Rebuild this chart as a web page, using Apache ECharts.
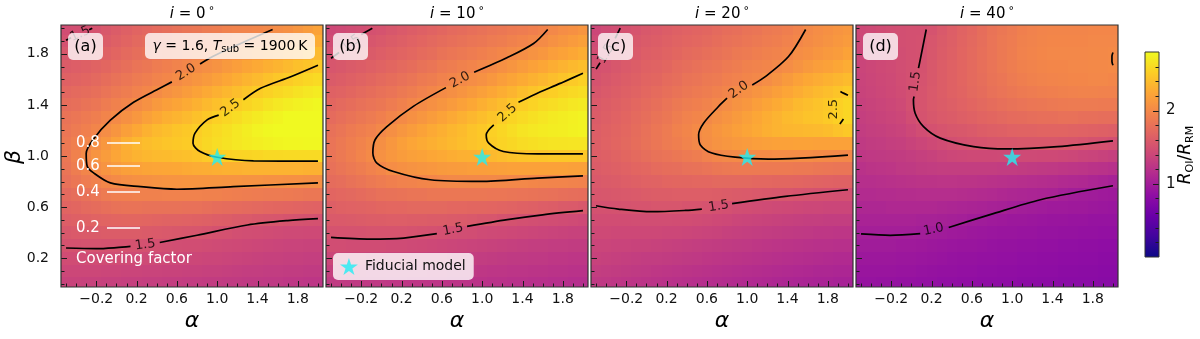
<!DOCTYPE html>
<html>
<head>
<meta charset="utf-8">
<script src="https://cdn.jsdelivr.net/npm/echarts@6/dist/echarts.min.js"></script>
<style>
html, body { margin: 0; padding: 0; background: #fff; }
#chart { width: 1200px; height: 339px; }
</style>
</head>
<body>
<div id="chart"></div>
<script>
// cell centres of the grid (alpha columns, beta rows)
var alphaCenters = [-0.5, -0.4, -0.3, -0.2, -0.1, 0.0, 0.1, 0.2, 0.3, 0.4, 0.5, 0.6, 0.7, 0.8, 0.9, 1.0, 1.1, 1.2, 1.3, 1.4, 1.5, 1.6, 1.7, 1.8, 1.9, 2.0];
var betaCenters = [0.0, 0.1, 0.2, 0.3, 0.4, 0.5, 0.6, 0.7, 0.8, 0.9, 1.0, 1.1, 1.2, 1.3, 1.4, 1.5, 1.6, 1.7, 1.8, 1.9, 2.0];
var alphaRange = [-0.55, 2.05];
var betaRange = [-0.025, 2.025];

var alphaTicks = [-0.2, 0.2, 0.6, 1.0, 1.4, 1.8];
var alphaMinor = [-0.5, -0.4, -0.3, -0.1, 0.0, 0.1, 0.3, 0.4, 0.5, 0.7, 0.8, 0.9, 1.1, 1.2, 1.3, 1.5, 1.6, 1.7, 1.9, 2.0];
var betaTicks = [0.2, 0.6, 1.0, 1.4, 1.8];
var betaMinor = [0.0, 0.1, 0.3, 0.4, 0.5, 0.7, 0.8, 0.9, 1.1, 1.2, 1.3, 1.5, 1.6, 1.7, 1.9, 2.0];
var cbarTicks = [1, 2];
var cbarMinor = [0.2, 0.4, 0.6, 0.8, 1.2, 1.4, 1.6, 1.8, 2.2, 2.4, 2.6];
var cbarRange = [0, 2.8];

var inclinations = ['0', '10', '20', '40'];
var panelTags = ['(a)', '(b)', '(c)', '(d)'];
var fiducial = [1.0, 1.0];
var coverLevels = ['0.8', '0.6', '0.4', '0.2'];

// R_OI / R_RM, one row per beta (0.0 -> 2.0), one column per alpha (-0.5 -> 2.0)
var ratioA = [
  [1.36,1.36,1.35,1.35,1.34,1.34,1.33,1.33,1.32,1.32,1.31,1.31,1.30,1.30,1.29,1.29,1.28,1.28,1.27,1.27,1.26,1.26,1.25,1.25,1.24,1.24],
  [1.40,1.40,1.40,1.40,1.39,1.39,1.38,1.38,1.37,1.37,1.36,1.36,1.35,1.35,1.34,1.34,1.33,1.32,1.31,1.31,1.30,1.30,1.29,1.29,1.28,1.28],
  [1.45,1.45,1.45,1.45,1.45,1.45,1.44,1.44,1.43,1.43,1.42,1.41,1.40,1.40,1.39,1.39,1.38,1.37,1.36,1.35,1.34,1.34,1.33,1.33,1.32,1.32],
  [1.51,1.51,1.52,1.52,1.51,1.51,1.51,1.51,1.50,1.49,1.48,1.47,1.46,1.46,1.45,1.44,1.43,1.42,1.41,1.40,1.39,1.38,1.37,1.37,1.36,1.36],
  [1.56,1.58,1.59,1.59,1.60,1.60,1.60,1.60,1.59,1.58,1.57,1.56,1.55,1.54,1.53,1.51,1.50,1.48,1.47,1.46,1.45,1.44,1.43,1.43,1.42,1.42],
  [1.62,1.64,1.65,1.67,1.68,1.69,1.70,1.70,1.69,1.68,1.67,1.67,1.66,1.65,1.64,1.62,1.61,1.59,1.58,1.56,1.55,1.54,1.53,1.52,1.51,1.50],
  [1.68,1.70,1.73,1.75,1.78,1.80,1.81,1.81,1.80,1.80,1.80,1.80,1.79,1.79,1.78,1.76,1.75,1.74,1.73,1.72,1.71,1.70,1.69,1.68,1.67,1.66],
  [1.73,1.77,1.80,1.84,1.88,1.91,1.92,1.93,1.93,1.93,1.94,1.94,1.94,1.94,1.93,1.93,1.92,1.91,1.90,1.89,1.88,1.88,1.87,1.86,1.85,1.85],
  [1.79,1.84,1.89,1.93,1.98,2.01,2.04,2.06,2.07,2.08,2.09,2.09,2.10,2.10,2.10,2.10,2.09,2.09,2.08,2.08,2.07,2.07,2.06,2.06,2.05,2.05],
  [1.83,1.90,1.97,2.03,2.09,2.14,2.18,2.20,2.22,2.23,2.24,2.25,2.27,2.28,2.29,2.30,2.32,2.32,2.33,2.33,2.33,2.33,2.33,2.33,2.32,2.32],
  [1.85,1.93,2.01,2.09,2.16,2.23,2.29,2.33,2.36,2.38,2.39,2.41,2.42,2.45,2.49,2.52,2.53,2.55,2.56,2.57,2.59,2.59,2.60,2.60,2.60,2.60],
  [1.86,1.92,1.97,2.04,2.12,2.21,2.30,2.36,2.40,2.43,2.46,2.48,2.50,2.53,2.58,2.62,2.65,2.68,2.71,2.73,2.75,2.77,2.78,2.78,2.79,2.79],
  [1.84,1.88,1.92,1.97,2.03,2.10,2.18,2.25,2.32,2.37,2.41,2.45,2.48,2.51,2.56,2.60,2.64,2.68,2.72,2.76,2.79,2.81,2.82,2.83,2.84,2.84],
  [1.81,1.84,1.87,1.91,1.96,2.01,2.06,2.12,2.19,2.25,2.30,2.34,2.38,2.43,2.48,2.53,2.57,2.61,2.66,2.70,2.74,2.77,2.80,2.82,2.83,2.84],
  [1.76,1.78,1.81,1.84,1.89,1.93,1.97,2.02,2.07,2.13,2.18,2.22,2.27,2.32,2.37,2.42,2.47,2.51,2.56,2.60,2.65,2.69,2.72,2.75,2.77,2.79],
  [1.71,1.73,1.75,1.78,1.82,1.86,1.90,1.94,1.98,2.02,2.07,2.11,2.16,2.21,2.26,2.31,2.36,2.41,2.46,2.50,2.54,2.58,2.61,2.65,2.68,2.71],
  [1.65,1.67,1.69,1.72,1.76,1.80,1.84,1.88,1.91,1.95,1.98,2.02,2.06,2.10,2.14,2.19,2.24,2.29,2.34,2.38,2.43,2.47,2.50,2.54,2.57,2.60],
  [1.60,1.62,1.64,1.67,1.70,1.74,1.78,1.82,1.85,1.89,1.92,1.95,1.98,2.02,2.05,2.08,2.13,2.17,2.22,2.26,2.30,2.34,2.38,2.42,2.45,2.49],
  [1.55,1.57,1.59,1.62,1.65,1.69,1.73,1.77,1.80,1.83,1.86,1.89,1.92,1.95,1.98,2.01,2.04,2.07,2.10,2.14,2.18,2.22,2.26,2.30,2.34,2.38],
  [1.50,1.52,1.54,1.57,1.60,1.64,1.68,1.72,1.75,1.78,1.81,1.84,1.87,1.89,1.92,1.94,1.97,1.99,2.02,2.05,2.08,2.11,2.15,2.19,2.24,2.28],
  [1.46,1.48,1.49,1.52,1.56,1.60,1.64,1.68,1.71,1.74,1.77,1.80,1.83,1.85,1.88,1.90,1.93,1.95,1.96,1.98,2.00,2.03,2.06,2.11,2.16,2.21]
];
var ratioB = [
  [1.28,1.28,1.27,1.27,1.26,1.26,1.25,1.25,1.24,1.24,1.23,1.23,1.22,1.22,1.21,1.21,1.20,1.20,1.19,1.19,1.18,1.18,1.17,1.17,1.16,1.16],
  [1.33,1.33,1.32,1.32,1.31,1.31,1.30,1.30,1.29,1.29,1.28,1.28,1.27,1.27,1.26,1.25,1.24,1.24,1.23,1.23,1.22,1.22,1.21,1.21,1.20,1.20],
  [1.39,1.39,1.38,1.38,1.37,1.37,1.36,1.36,1.35,1.35,1.34,1.33,1.32,1.32,1.31,1.30,1.29,1.28,1.27,1.27,1.26,1.26,1.25,1.25,1.24,1.24],
  [1.46,1.46,1.45,1.45,1.45,1.45,1.44,1.44,1.43,1.42,1.41,1.40,1.39,1.38,1.37,1.36,1.35,1.34,1.33,1.32,1.31,1.31,1.30,1.30,1.29,1.29],
  [1.52,1.52,1.52,1.52,1.53,1.53,1.53,1.53,1.52,1.51,1.50,1.49,1.48,1.47,1.46,1.44,1.43,1.42,1.41,1.40,1.39,1.38,1.37,1.36,1.35,1.35],
  [1.58,1.58,1.59,1.60,1.61,1.61,1.62,1.62,1.61,1.61,1.60,1.60,1.59,1.58,1.57,1.55,1.54,1.52,1.51,1.49,1.48,1.47,1.46,1.45,1.44,1.42],
  [1.63,1.65,1.66,1.67,1.68,1.70,1.71,1.71,1.72,1.72,1.72,1.72,1.71,1.71,1.70,1.70,1.69,1.68,1.67,1.65,1.64,1.62,1.61,1.59,1.58,1.56],
  [1.69,1.71,1.72,1.74,1.77,1.79,1.80,1.81,1.83,1.83,1.85,1.85,1.85,1.85,1.85,1.85,1.84,1.84,1.83,1.82,1.81,1.80,1.79,1.78,1.77,1.76],
  [1.75,1.77,1.80,1.83,1.86,1.89,1.92,1.94,1.95,1.97,1.98,1.99,2.00,2.00,2.00,2.00,2.00,2.00,1.99,1.99,1.98,1.97,1.96,1.96,1.95,1.94],
  [1.79,1.83,1.86,1.90,1.94,1.98,2.03,2.06,2.08,2.10,2.12,2.14,2.15,2.16,2.17,2.17,2.18,2.19,2.20,2.20,2.20,2.20,2.20,2.20,2.19,2.19],
  [1.82,1.86,1.91,1.96,2.01,2.07,2.12,2.16,2.19,2.21,2.24,2.26,2.29,2.31,2.32,2.34,2.37,2.40,2.43,2.45,2.46,2.46,2.47,2.47,2.47,2.47],
  [1.82,1.86,1.91,1.95,2.00,2.05,2.12,2.18,2.23,2.27,2.30,2.34,2.37,2.41,2.44,2.47,2.51,2.55,2.58,2.61,2.63,2.65,2.66,2.66,2.67,2.67],
  [1.79,1.83,1.87,1.91,1.94,1.99,2.05,2.11,2.16,2.21,2.26,2.30,2.35,2.39,2.44,2.48,2.53,2.57,2.62,2.66,2.69,2.71,2.72,2.73,2.75,2.76],
  [1.74,1.78,1.81,1.85,1.88,1.92,1.97,2.01,2.06,2.11,2.16,2.21,2.26,2.31,2.36,2.41,2.46,2.51,2.56,2.60,2.64,2.67,2.70,2.72,2.74,2.76],
  [1.70,1.73,1.76,1.79,1.82,1.85,1.89,1.93,1.98,2.02,2.06,2.10,2.15,2.20,2.25,2.30,2.35,2.40,2.46,2.51,2.55,2.59,2.62,2.65,2.68,2.70],
  [1.65,1.67,1.70,1.73,1.76,1.79,1.82,1.86,1.90,1.94,1.98,2.02,2.05,2.09,2.14,2.19,2.24,2.29,2.34,2.40,2.45,2.49,2.52,2.56,2.59,2.62],
  [1.59,1.61,1.64,1.67,1.70,1.73,1.76,1.79,1.83,1.87,1.90,1.94,1.97,2.00,2.03,2.07,2.12,2.17,2.22,2.27,2.32,2.36,2.41,2.45,2.49,2.53],
  [1.54,1.56,1.59,1.61,1.64,1.67,1.70,1.73,1.76,1.80,1.83,1.87,1.90,1.93,1.96,1.99,2.02,2.06,2.10,2.15,2.20,2.24,2.29,2.33,2.37,2.41],
  [1.49,1.51,1.54,1.56,1.59,1.62,1.65,1.68,1.71,1.74,1.77,1.81,1.84,1.86,1.89,1.92,1.95,1.98,2.01,2.04,2.08,2.12,2.17,2.21,2.25,2.29],
  [1.45,1.47,1.49,1.51,1.54,1.57,1.60,1.63,1.66,1.69,1.72,1.75,1.78,1.80,1.83,1.85,1.88,1.90,1.93,1.96,1.99,2.02,2.07,2.11,2.15,2.19],
  [1.41,1.43,1.45,1.47,1.50,1.52,1.55,1.58,1.61,1.64,1.67,1.70,1.73,1.75,1.78,1.80,1.83,1.85,1.87,1.89,1.92,1.95,1.99,2.03,2.06,2.10]
];
var ratioC = [
  [1.27,1.26,1.25,1.24,1.23,1.22,1.21,1.20,1.19,1.18,1.17,1.16,1.15,1.14,1.13,1.12,1.11,1.10,1.09,1.08,1.07,1.06,1.05,1.05,1.04,1.04],
  [1.31,1.30,1.29,1.28,1.27,1.26,1.25,1.24,1.23,1.22,1.21,1.20,1.19,1.18,1.17,1.16,1.15,1.14,1.13,1.12,1.11,1.10,1.09,1.09,1.08,1.08],
  [1.35,1.34,1.33,1.32,1.31,1.30,1.30,1.29,1.28,1.27,1.26,1.25,1.24,1.23,1.22,1.21,1.20,1.19,1.18,1.17,1.16,1.15,1.14,1.13,1.12,1.12],
  [1.38,1.38,1.37,1.37,1.36,1.36,1.35,1.34,1.33,1.32,1.31,1.30,1.29,1.28,1.27,1.26,1.25,1.24,1.23,1.22,1.21,1.20,1.19,1.19,1.18,1.18],
  [1.42,1.42,1.41,1.41,1.41,1.41,1.41,1.40,1.40,1.39,1.38,1.37,1.36,1.34,1.33,1.32,1.31,1.30,1.29,1.28,1.27,1.26,1.25,1.25,1.24,1.24],
  [1.46,1.46,1.46,1.46,1.47,1.47,1.47,1.47,1.46,1.46,1.45,1.44,1.42,1.41,1.39,1.38,1.37,1.36,1.35,1.34,1.33,1.32,1.32,1.31,1.31,1.31],
  [1.50,1.50,1.51,1.52,1.53,1.53,1.54,1.54,1.54,1.53,1.53,1.52,1.50,1.49,1.47,1.46,1.45,1.44,1.43,1.42,1.41,1.40,1.40,1.39,1.39,1.39],
  [1.54,1.55,1.56,1.57,1.58,1.60,1.61,1.61,1.62,1.62,1.62,1.62,1.61,1.60,1.59,1.58,1.57,1.56,1.55,1.54,1.53,1.52,1.51,1.50,1.49,1.49],
  [1.57,1.59,1.60,1.62,1.64,1.66,1.67,1.69,1.70,1.70,1.71,1.71,1.72,1.72,1.72,1.72,1.71,1.71,1.70,1.70,1.69,1.68,1.67,1.66,1.65,1.65],
  [1.60,1.62,1.64,1.66,1.69,1.71,1.74,1.76,1.77,1.79,1.80,1.82,1.85,1.86,1.87,1.87,1.87,1.87,1.87,1.87,1.86,1.86,1.85,1.84,1.83,1.83],
  [1.62,1.64,1.67,1.70,1.73,1.77,1.80,1.82,1.85,1.87,1.90,1.94,1.98,2.00,2.01,2.01,2.02,2.02,2.03,2.03,2.03,2.03,2.02,2.01,2.00,1.99],
  [1.63,1.66,1.69,1.72,1.76,1.80,1.84,1.88,1.91,1.95,1.99,2.04,2.08,2.11,2.13,2.15,2.17,2.19,2.20,2.20,2.21,2.21,2.20,2.20,2.20,2.20],
  [1.62,1.65,1.68,1.71,1.75,1.79,1.84,1.88,1.93,1.97,2.01,2.05,2.10,2.14,2.18,2.22,2.26,2.30,2.33,2.35,2.36,2.37,2.38,2.40,2.44,2.48],
  [1.60,1.63,1.66,1.69,1.73,1.77,1.81,1.85,1.90,1.94,1.97,2.00,2.05,2.09,2.14,2.19,2.24,2.29,2.33,2.38,2.41,2.44,2.46,2.49,2.53,2.57],
  [1.58,1.61,1.64,1.67,1.71,1.74,1.78,1.82,1.86,1.90,1.92,1.95,1.99,2.03,2.08,2.12,2.17,2.22,2.27,2.32,2.37,2.41,2.44,2.48,2.53,2.57],
  [1.55,1.58,1.61,1.64,1.67,1.71,1.74,1.78,1.81,1.85,1.87,1.90,1.93,1.97,2.01,2.05,2.09,2.13,2.18,2.23,2.28,2.33,2.37,2.41,2.45,2.49],
  [1.52,1.55,1.58,1.61,1.64,1.68,1.70,1.74,1.77,1.81,1.83,1.86,1.88,1.92,1.94,1.97,1.99,2.03,2.08,2.14,2.20,2.25,2.28,2.32,2.35,2.39],
  [1.50,1.52,1.55,1.58,1.61,1.65,1.67,1.70,1.74,1.77,1.79,1.82,1.84,1.87,1.90,1.93,1.95,1.97,2.00,2.03,2.08,2.13,2.17,2.20,2.24,2.28],
  [1.47,1.49,1.52,1.55,1.58,1.62,1.64,1.67,1.70,1.73,1.75,1.78,1.80,1.83,1.86,1.88,1.91,1.93,1.95,1.98,2.03,2.06,2.10,2.13,2.16,2.21],
  [1.44,1.46,1.49,1.52,1.56,1.59,1.61,1.64,1.67,1.69,1.71,1.73,1.76,1.79,1.81,1.84,1.86,1.89,1.91,1.94,1.98,2.02,2.05,2.08,2.12,2.15],
  [1.40,1.44,1.47,1.50,1.53,1.56,1.58,1.61,1.64,1.66,1.68,1.70,1.73,1.76,1.78,1.81,1.83,1.86,1.88,1.91,1.95,2.00,2.03,2.06,2.09,2.12]
];
var ratioD = [
  [0.90,0.90,0.89,0.89,0.88,0.88,0.87,0.87,0.86,0.86,0.85,0.85,0.84,0.84,0.83,0.83,0.82,0.82,0.81,0.81,0.80,0.80,0.80,0.80,0.79,0.79],
  [0.92,0.92,0.92,0.92,0.91,0.91,0.90,0.89,0.88,0.88,0.87,0.87,0.86,0.86,0.85,0.85,0.84,0.84,0.83,0.83,0.82,0.82,0.81,0.81,0.80,0.80],
  [0.95,0.95,0.95,0.95,0.94,0.94,0.93,0.92,0.91,0.90,0.89,0.89,0.88,0.88,0.87,0.87,0.86,0.86,0.85,0.85,0.84,0.84,0.83,0.83,0.82,0.82],
  [0.98,0.98,0.98,0.98,0.97,0.97,0.96,0.95,0.94,0.93,0.92,0.92,0.91,0.90,0.89,0.89,0.88,0.88,0.87,0.87,0.86,0.86,0.85,0.85,0.84,0.84],
  [1.01,1.01,1.01,1.01,1.01,1.01,1.00,0.99,0.98,0.97,0.96,0.95,0.94,0.93,0.92,0.92,0.91,0.91,0.90,0.90,0.89,0.89,0.88,0.88,0.87,0.87],
  [1.05,1.05,1.05,1.05,1.05,1.05,1.04,1.04,1.03,1.02,1.01,0.99,0.98,0.97,0.96,0.95,0.95,0.94,0.93,0.92,0.92,0.91,0.91,0.90,0.90,0.90],
  [1.09,1.09,1.09,1.10,1.10,1.10,1.10,1.10,1.09,1.08,1.07,1.06,1.05,1.04,1.03,1.01,1.00,0.99,0.98,0.97,0.97,0.96,0.96,0.95,0.94,0.93],
  [1.13,1.13,1.14,1.14,1.15,1.15,1.16,1.16,1.16,1.16,1.15,1.14,1.13,1.12,1.10,1.09,1.08,1.07,1.06,1.05,1.02,1.00,0.99,0.98,0.97,0.96],
  [1.17,1.17,1.18,1.19,1.20,1.21,1.22,1.22,1.23,1.23,1.22,1.22,1.21,1.20,1.19,1.18,1.17,1.16,1.15,1.14,1.12,1.11,1.10,1.08,1.06,1.04],
  [1.20,1.22,1.23,1.24,1.26,1.27,1.29,1.30,1.31,1.31,1.31,1.31,1.31,1.31,1.30,1.30,1.29,1.28,1.27,1.26,1.25,1.24,1.23,1.21,1.20,1.18],
  [1.25,1.26,1.27,1.28,1.29,1.31,1.33,1.35,1.38,1.40,1.41,1.42,1.42,1.42,1.43,1.43,1.43,1.43,1.42,1.42,1.41,1.40,1.38,1.37,1.35,1.33],
  [1.27,1.29,1.30,1.32,1.33,1.36,1.39,1.42,1.45,1.48,1.50,1.52,1.53,1.54,1.55,1.55,1.56,1.56,1.56,1.56,1.55,1.54,1.53,1.51,1.50,1.48],
  [1.30,1.32,1.33,1.35,1.37,1.41,1.46,1.50,1.53,1.55,1.56,1.58,1.61,1.63,1.64,1.66,1.67,1.67,1.68,1.68,1.68,1.67,1.66,1.65,1.64,1.63],
  [1.32,1.34,1.36,1.38,1.40,1.46,1.52,1.55,1.58,1.60,1.63,1.65,1.68,1.70,1.72,1.74,1.75,1.77,1.78,1.78,1.79,1.79,1.78,1.78,1.77,1.77],
  [1.34,1.36,1.38,1.40,1.43,1.49,1.53,1.57,1.60,1.63,1.66,1.69,1.72,1.75,1.78,1.80,1.82,1.84,1.85,1.86,1.87,1.88,1.88,1.88,1.87,1.87],
  [1.36,1.38,1.40,1.42,1.45,1.49,1.53,1.57,1.61,1.65,1.68,1.72,1.75,1.79,1.82,1.85,1.87,1.89,1.91,1.92,1.93,1.94,1.95,1.95,1.94,1.94],
  [1.37,1.39,1.41,1.43,1.46,1.49,1.52,1.56,1.61,1.65,1.69,1.73,1.77,1.81,1.84,1.88,1.91,1.93,1.95,1.96,1.97,1.98,1.98,1.99,1.99,1.98],
  [1.38,1.40,1.42,1.44,1.47,1.49,1.51,1.56,1.61,1.65,1.69,1.73,1.78,1.82,1.86,1.90,1.93,1.95,1.97,1.98,1.98,1.99,1.99,2.00,2.00,2.01],
  [1.39,1.41,1.43,1.45,1.47,1.49,1.50,1.55,1.60,1.64,1.69,1.73,1.78,1.82,1.86,1.90,1.94,1.96,1.98,1.99,1.99,1.99,1.99,2.00,2.00,2.01],
  [1.40,1.42,1.44,1.46,1.48,1.49,1.50,1.54,1.59,1.63,1.68,1.72,1.77,1.82,1.86,1.89,1.93,1.95,1.97,1.98,1.98,1.98,1.98,1.99,1.99,1.99],
  [1.41,1.43,1.45,1.47,1.48,1.49,1.49,1.52,1.57,1.62,1.67,1.71,1.76,1.81,1.85,1.88,1.92,1.94,1.96,1.97,1.97,1.97,1.97,1.98,1.98,1.98]
];

// contour segments [alpha, beta], split where the level labels sit
var contourA = [
  [[-0.5,0.28],[-0.2,0.275],[0.0,0.283],[0.14,0.293]],
  [[0.43,0.323],[0.8,0.38],[1.3,0.46],[1.7,0.495],[2.0,0.51]],
  [[1.55,1.99],[1.16,1.855],[0.96,1.78],[0.83,1.72]],
  [[0.55,1.58],[0.43,1.53],[0.17,1.42],[-0.06,1.28],[-0.23,1.13],[-0.30,1.02],[-0.29,0.92],[-0.23,0.87],[-0.06,0.79],[0.24,0.76],[0.60,0.74],[1.16,0.76],[2.0,0.79]],
  [[2.0,1.71],[1.73,1.62],[1.43,1.53],[1.26,1.44]],
  [[1.015,1.32],[0.90,1.283],[0.78,1.179],[0.76,1.10],[0.83,1.035],[1.0,0.99],[1.36,0.962],[2.0,0.96]],
  [[-0.5,1.905],[-0.45,1.925]],
  [[-0.27,1.988],[-0.24,2.0]]
];
var contourB = [
  [[-0.5,0.363],[-0.11,0.35],[0.22,0.358],[0.55,0.392]],
  [[0.85,0.449],[1.25,0.502],[1.6,0.54],[2.0,0.572]],
  [[1.65,1.99],[1.51,1.88],[1.25,1.77],[0.92,1.655]],
  [[0.64,1.535],[0.32,1.39],[0.054,1.23],[-0.063,1.127],[-0.085,1.023],[-0.045,0.945],[0.12,0.879],[0.485,0.814],[0.98,0.801],[1.55,0.827],[2.0,0.845]],
  [[2.0,1.648],[1.78,1.57],[1.51,1.478],[1.36,1.42]],
  [[1.115,1.244],[1.04,1.166],[1.065,1.10],[1.21,1.035],[1.55,1.017],[2.0,1.017]],
  [[-0.09,2.0],[-0.2,1.95]],
  [[-0.42,1.81],[-0.5,1.765]]
];
var contourC = [
  [[-0.5,0.611],[-0.28,0.585],[0.054,0.564],[0.386,0.574],[0.55,0.585]],
  [[0.85,0.627],[1.38,0.684],[2.0,0.736]],
  [[1.58,1.99],[1.41,1.778],[1.18,1.621],[1.05,1.556]],
  [[0.80,1.452],[0.715,1.387],[0.567,1.257],[0.518,1.166],[0.535,1.087],[0.65,1.023],[0.88,0.991],[1.21,0.976],[2.0,1.007]],
  [[2.0,1.475],[1.96,1.49],[1.925,1.505]],
  [[1.92,1.25],[1.955,1.29]],
  [[-0.26,2.0],[-0.31,1.92]],
  [[-0.46,1.73],[-0.5,1.68]]
];
var contourD = [
  [[-0.5,0.39],[-0.21,0.379],[0.087,0.392]],
  [[0.37,0.441],[0.78,0.541],[1.28,0.658],[2.0,0.767]],
  [[0.147,1.99],[0.087,1.752],[0.07,1.687]],
  [[0.027,1.465],[0.02,1.44],[0.037,1.335],[0.12,1.23],[0.286,1.14],[0.617,1.074],[0.95,1.056],[1.45,1.074],[2.0,1.119]],
  [[2.0,1.81],[1.99,1.78],[1.99,1.74],[2.0,1.71]]
];

// contour level labels: [alpha, beta, text, angle]
var labelsA = [[0.285,0.305,'1.5',8],[0.69,1.655,'2.0',32],[1.13,1.375,'2.5',36],[-0.36,1.955,'1.5',25]];
var labelsB = [[0.71,0.424,'1.5',11],[0.78,1.595,'2.0',29],[1.25,1.335,'2.5',42],[-0.30,1.88,'1.5',36]];
var labelsC = [[0.717,0.606,'1.5',9],[0.916,1.517,'2.0',36],[1.86,1.366,'2.5',90],[-0.40,1.80,'1.5',60]];
var labelsD = [[0.22,0.424,'1.0',12],[0.04,1.582,'1.5',82]];

var FONT = 'DejaVu Sans';
var panelLeft = [61, 326, 591, 856];
var panelTop = 25, panelSize = 262;
var plasma = ['#0d0887','#41049d','#6a00a8','#8f0da4','#b12a90','#cc4778','#e16462','#f2844b','#fca636','#fcce25','#f0f921'];
var STAR = 'path://M50,0L61.2,34.5L97.6,34.5L68.2,55.9L79.4,90.5L50,69.1L20.6,90.5L31.8,55.9L2.4,34.5L38.8,34.5Z';
var CYAN = '#22eef4';
var TICK = '#1a1a1a';
var MAJOR = 6, MINOR = 3.5;

var ratios = [ratioA, ratioB, ratioC, ratioD];
var contours = [contourA, contourB, contourC, contourD];
var clabels = [labelsA, labelsB, labelsC, labelsD];

function fmt(v) { return (v < 0 ? '\u2212' : '') + Math.abs(v).toFixed(1); }

function renderCell(params, api) {
  var a = api.value(0), b = api.value(1);
  var p0 = api.coord([a - 0.05, b + 0.05]);
  var p1 = api.coord([a + 0.05, b - 0.05]);
  var x0 = Math.round(p0[0]), y0 = Math.round(p0[1]);
  var x1 = Math.round(p1[0]), y1 = Math.round(p1[1]);
  return {
    type: 'rect',
    shape: { x: x0, y: y0, width: x1 - x0, height: y1 - y0 },
    style: { fill: api.visual('color') }
  };
}

// inward ticks along the bottom edge
function renderXTick(params, api) {
  var pt = api.coord([api.value(0), betaRange[0]]);
  var x = Math.round(pt[0]) + 0.5;
  return { type: 'line', shape: { x1: x, y1: pt[1], x2: x, y2: pt[1] - api.value(1) }, style: { stroke: TICK, lineWidth: 1 } };
}
// inward ticks along the left edge
function renderYTick(params, api) {
  var pt = api.coord([alphaRange[0], api.value(0)]);
  var y = Math.round(pt[1]) + 0.5;
  return { type: 'line', shape: { x1: pt[0], y1: y, x2: pt[0] + api.value(1), y2: y }, style: { stroke: TICK, lineWidth: 1 } };
}
function withLen(major, minor) {
  return major.map(function (v) { return [v, MAJOR]; }).concat(minor.map(function (v) { return [v, MINOR]; }));
}

var grids = [], xAxes = [], yAxes = [], series = [], graphics = [];

// heatmaps first so visualMap can target 0..3
for (var p = 0; p < 4; p++) {
  var cells = [];
  for (var r = 0; r < betaCenters.length; r++) {
    for (var c = 0; c < alphaCenters.length; c++) {
      cells.push([alphaCenters[c], betaCenters[r], ratios[p][r][c]]);
    }
  }
  series.push({
    type: 'custom', xAxisIndex: p, yAxisIndex: p,
    data: cells, renderItem: renderCell, clip: true, silent: true, z: 1,
    encode: { x: 0, y: 1 }
  });
}

for (var p = 0; p < 4; p++) {
  grids.push({
    left: panelLeft[p], top: panelTop, width: panelSize, height: panelSize,
    show: true, borderColor: '#333', borderWidth: 1.2, z: 10
  });
  xAxes.push({
    gridIndex: p, type: 'value', min: alphaRange[0], max: alphaRange[1], position: 'bottom',
    axisLine: { show: false, onZero: false }, splitLine: { show: false }, axisTick: { show: false },
    axisLabel: { customValues: alphaTicks, formatter: fmt, fontSize: 14, fontFamily: FONT, color: '#111', margin: 5 }
  });
  yAxes.push({
    gridIndex: p, type: 'value', min: betaRange[0], max: betaRange[1], position: 'left',
    axisLine: { show: false, onZero: false }, splitLine: { show: false }, axisTick: { show: false },
    axisLabel: { show: p === 0, customValues: betaTicks, formatter: fmt, fontSize: 14, fontFamily: FONT, color: '#111', margin: 12 }
  });

  series.push({
    type: 'custom', xAxisIndex: p, yAxisIndex: p, silent: true, clip: false, z: 6,
    data: withLen(alphaTicks, alphaMinor), renderItem: renderXTick
  });
  series.push({
    type: 'custom', xAxisIndex: p, yAxisIndex: p, silent: true, clip: false, z: 6,
    data: withLen(betaTicks, betaMinor), renderItem: renderYTick
  });

  contours[p].forEach(function (seg) {
    series.push({
      type: 'line', xAxisIndex: p, yAxisIndex: p, data: seg,
      symbol: 'none', smooth: 0.3, silent: true, z: 3,
      lineStyle: { color: '#000', width: 1.7 }
    });
  });

  series.push({
    type: 'scatter', xAxisIndex: p, yAxisIndex: p, silent: true, z: 4,
    symbolSize: 0, itemStyle: { color: 'transparent' },
    label: { show: true, position: 'inside', fontSize: 13, fontFamily: FONT, color: '#000' },
    data: clabels[p].map(function (l) {
      return { value: [l[0], l[1]], label: { rotate: l[3], formatter: l[2] } };
    })
  });

  series.push({
    type: 'scatter', name: 'Fiducial model', xAxisIndex: p, yAxisIndex: p,
    data: [fiducial], symbol: STAR, symbolSize: 18, symbolOffset: [0, 1],
    itemStyle: { color: CYAN }, silent: true, z: 5
  });

  var cx = panelLeft[p] + panelSize / 2;
  graphics.push({
    type: 'text', x: cx, y: 14, z: 100,
    style: {
      text: '{it|i} = ' + inclinations[p] + '{deg|\u00b0}',
      textAlign: 'center', textVerticalAlign: 'middle', align: 'center', verticalAlign: 'middle',
      fontSize: 15, fontFamily: FONT, fill: '#000',
      rich: {
        it: { fontSize: 15, fontFamily: FONT, fontStyle: 'italic', fill: '#000' },
        deg: { fontSize: 11, fontFamily: FONT, fill: '#000', padding: [0, 0, 6, 3] }
      }
    }
  });
  graphics.push({
    type: 'text', x: cx, y: 321, z: 100,
    style: {
      text: '\u03b1', textAlign: 'center', textVerticalAlign: 'middle', align: 'center', verticalAlign: 'middle',
      fontSize: 22, fontFamily: FONT, fontStyle: 'italic', fill: '#000'
    }
  });
  graphics.push({
    type: 'rect', z: 100,
    shape: { x: panelLeft[p] + 7, y: 33, width: 35, height: 27, r: 5 },
    style: { fill: 'rgba(255,255,255,0.78)' }
  });
  graphics.push({
    type: 'text', x: panelLeft[p] + 24.5, y: 47, z: 101,
    style: {
      text: panelTags[p], textAlign: 'center', textVerticalAlign: 'middle', align: 'center', verticalAlign: 'middle',
      fontSize: 16, fontFamily: FONT, fill: '#000'
    }
  });
}

// colorbar
grids.push({ left: 1145, top: 52, width: 14, height: 205, show: true, borderColor: '#333', borderWidth: 1, z: 10 });
xAxes.push({ gridIndex: 4, type: 'value', min: 0, max: 1, show: false });
yAxes.push({
  gridIndex: 4, type: 'value', min: cbarRange[0], max: cbarRange[1], position: 'right',
  axisLine: { show: false, onZero: false }, splitLine: { show: false }, axisTick: { show: false },
  axisLabel: { customValues: cbarTicks, fontSize: 15, fontFamily: FONT, color: '#111', margin: 7 }
});
var stops = plasma.map(function (col, i) {
  return { offset: 1 - i / (plasma.length - 1), color: col };
}).reverse();
series.push({
  type: 'custom', xAxisIndex: 4, yAxisIndex: 4, silent: true, z: 1,
  data: [[0, cbarRange[0]]],
  renderItem: function (params, api) {
    var p0 = api.coord([0, cbarRange[1]]);
    var p1 = api.coord([1, cbarRange[0]]);
    return {
      type: 'rect',
      shape: { x: p0[0], y: p0[1], width: p1[0] - p0[0], height: p1[1] - p0[1] },
      style: { fill: { type: 'linear', x: 0, y: 0, x2: 0, y2: 1, colorStops: stops } }
    };
  }
});
series.push({
  type: 'custom', xAxisIndex: 4, yAxisIndex: 4, silent: true, clip: false, z: 6,
  data: withLen(cbarTicks, cbarMinor),
  renderItem: function (params, api) {
    var pt = api.coord([1, api.value(0)]);
    var y = Math.round(pt[1]) + 0.5;
    return { type: 'line', shape: { x1: pt[0], y1: y, x2: pt[0] - api.value(1), y2: y }, style: { stroke: TICK, lineWidth: 1 } };
  }
});

// annotations
graphics.push({
  type: 'text', x: 14, y: 157, rotation: Math.PI / 2, z: 100,
  style: {
    text: '\u03b2', textAlign: 'center', textVerticalAlign: 'middle', align: 'center', verticalAlign: 'middle',
    fontSize: 22, fontFamily: FONT, fontStyle: 'italic', fill: '#000'
  }
});
graphics.push({
  type: 'text', x: 1186, y: 155, rotation: Math.PI / 2, z: 100,
  style: {
    text: '{r|R}{s|OI}{n|/}{r|R}{s|RM}',
    textAlign: 'center', textVerticalAlign: 'middle', align: 'center', verticalAlign: 'middle',
    fontSize: 17, fontFamily: FONT, fill: '#000',
    rich: {
      r: { fontSize: 17, fontFamily: FONT, fontStyle: 'italic', fill: '#000', lineHeight: 24 },
      n: { fontSize: 17, fontFamily: FONT, fill: '#000', lineHeight: 24 },
      s: { fontSize: 11, fontFamily: FONT, fill: '#000', lineHeight: 24, padding: [8, 0, 0, 0] }
    }
  }
});
graphics.push({
  type: 'rect', z: 100,
  shape: { x: 145, y: 33, width: 170, height: 26, r: 5 },
  style: { fill: 'rgba(255,255,255,0.78)' }
});
graphics.push({
  type: 'text', x: 230, y: 46, z: 101,
  style: {
    text: '{it|\u03b3} = 1.6, {it|T}{s|sub} = 1900\u2009K',
    textAlign: 'center', textVerticalAlign: 'middle', align: 'center', verticalAlign: 'middle',
    fontSize: 14, fontFamily: FONT, fill: '#000',
    rich: {
      it: { fontSize: 14, fontFamily: FONT, fontStyle: 'italic', fill: '#000', lineHeight: 20 },
      s: { fontSize: 10, fontFamily: FONT, fill: '#000', lineHeight: 20, padding: [6, 0, 0, 0] }
    }
  }
});
var coverY = [143, 166, 192, 228];
coverLevels.forEach(function (t, i) {
  graphics.push({
    type: 'text', x: 76, y: coverY[i], z: 100,
    style: {
      text: t, textAlign: 'left', textVerticalAlign: 'middle', align: 'left', verticalAlign: 'middle',
      fontSize: 15, fontFamily: FONT, fill: '#fff'
    }
  });
  graphics.push({
    type: 'line', z: 100,
    shape: { x1: 107, y1: coverY[i], x2: 140, y2: coverY[i] },
    style: { stroke: '#fff', lineWidth: 1.5 }
  });
});
graphics.push({
  type: 'text', x: 76, y: 259, z: 100,
  style: {
    text: 'Covering factor', textAlign: 'left', textVerticalAlign: 'middle', align: 'left', verticalAlign: 'middle',
    fontSize: 15, fontFamily: FONT, fill: '#fff'
  }
});

var chart = echarts.init(document.getElementById('chart'));
chart.setOption({
  animation: false,
  backgroundColor: '#fff',
  grid: grids,
  xAxis: xAxes,
  yAxis: yAxes,
  visualMap: {
    type: 'continuous', show: false, min: cbarRange[0], max: cbarRange[1],
    dimension: 2, seriesIndex: [0, 1, 2, 3], inRange: { color: plasma }
  },
  legend: {
    left: 333, top: 253, selectedMode: false,
    data: [{ name: 'Fiducial model', icon: STAR }],
    itemWidth: 22, itemHeight: 17, itemGap: 5,
    padding: [5, 8, 5, 7], borderRadius: 5,
    backgroundColor: 'rgba(255,255,255,0.8)',
    textStyle: { fontSize: 14, fontFamily: FONT, color: '#111' }
  },
  graphic: { elements: graphics },
  series: series
});
</script>
</body>
</html>
